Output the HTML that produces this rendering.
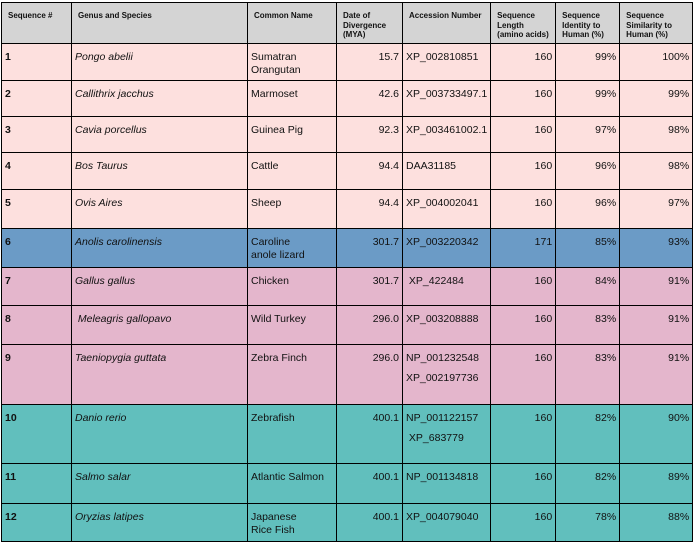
<!DOCTYPE html>
<html><head><meta charset="utf-8"><style>
html,body{margin:0;padding:0;background:#fff;width:694px;height:542px;overflow:hidden}
table{position:absolute;left:1px;top:2px;border-collapse:collapse;table-layout:fixed;font-family:"Liberation Sans",sans-serif;font-size:10.5px;color:#111}
td,th{border:1.5px solid #000;vertical-align:top;padding:7px 3px 0 3px;line-height:13px;overflow:hidden}
th{background:#d4d4d4;font-size:8px;line-height:9.5px;font-weight:bold;text-align:left;padding:8px 3px 0 6px;white-space:nowrap}
td:nth-child(1){font-weight:bold}
td:nth-child(2){font-style:italic}
td:nth-child(4),td:nth-child(6),td:nth-child(7),td:nth-child(8){text-align:right}
.p td{background:#fde0de}.b td{background:#6b9bc6}.m td{background:#e4b6cc}.t td{background:#61bfbd}
.sp{display:block;margin-top:7px}
</style></head><body>
<table>
<colgroup><col style="width:70px"><col style="width:176px"><col style="width:89px"><col style="width:66px"><col style="width:88px"><col style="width:65px"><col style="width:64px"><col style="width:73px"></colgroup>
<tr style="height:41px"><th>Sequence #</th><th>Genus and Species</th><th>Common Name</th><th>Date of<br>Divergence<br>(MYA)</th><th>Accession Number</th><th>Sequence<br>Length<br>(amino acids)</th><th>Sequence<br>Identity to<br>Human (%)</th><th>Sequence<br>Similarity to<br>Human (%)</th></tr>
<tr class="p" style="height:37px"><td>1</td><td>Pongo abelii</td><td>Sumatran<br>Orangutan</td><td>15.7</td><td>XP_002810851</td><td>160</td><td>99%</td><td>100%</td></tr>
<tr class="p" style="height:36px"><td>2</td><td>Callithrix jacchus</td><td>Marmoset</td><td>42.6</td><td>XP_003733497.1</td><td>160</td><td>99%</td><td>99%</td></tr>
<tr class="p" style="height:36px"><td>3</td><td>Cavia porcellus</td><td>Guinea Pig</td><td>92.3</td><td>XP_003461002.1</td><td>160</td><td>97%</td><td>98%</td></tr>
<tr class="p" style="height:37px"><td>4</td><td>Bos Taurus</td><td>Cattle</td><td>94.4</td><td>DAA31185</td><td>160</td><td>96%</td><td>98%</td></tr>
<tr class="p" style="height:39px"><td>5</td><td>Ovis Aires</td><td>Sheep</td><td>94.4</td><td>XP_004002041</td><td>160</td><td>96%</td><td>97%</td></tr>
<tr class="b" style="height:39px"><td>6</td><td>Anolis carolinensis</td><td>Caroline<br>anole lizard</td><td>301.7</td><td>XP_003220342</td><td>171</td><td>85%</td><td>93%</td></tr>
<tr class="m" style="height:38px"><td>7</td><td>Gallus gallus</td><td>Chicken</td><td>301.7</td><td>&nbsp;XP_422484</td><td>160</td><td>84%</td><td>91%</td></tr>
<tr class="m" style="height:39px"><td>8</td><td>&nbsp;Meleagris gallopavo</td><td>Wild Turkey</td><td>296.0</td><td>XP_003208888</td><td>160</td><td>83%</td><td>91%</td></tr>
<tr class="m" style="height:60px"><td>9</td><td>Taeniopygia guttata</td><td>Zebra Finch</td><td>296.0</td><td>NP_001232548<span class="sp">XP_002197736</span></td><td>160</td><td>83%</td><td>91%</td></tr>
<tr class="t" style="height:59px"><td>10</td><td>Danio rerio</td><td>Zebrafish</td><td>400.1</td><td>NP_001122157<span class="sp">&nbsp;XP_683779</span></td><td>160</td><td>82%</td><td>90%</td></tr>
<tr class="t" style="height:40px"><td>11</td><td>Salmo salar</td><td>Atlantic Salmon</td><td>400.1</td><td>NP_001134818</td><td>160</td><td>82%</td><td>89%</td></tr>
<tr class="t" style="height:38px"><td>12</td><td>Oryzias latipes</td><td>Japanese<br>Rice Fish</td><td>400.1</td><td>XP_004079040</td><td>160</td><td>78%</td><td>88%</td></tr>
</table>
</body></html>
